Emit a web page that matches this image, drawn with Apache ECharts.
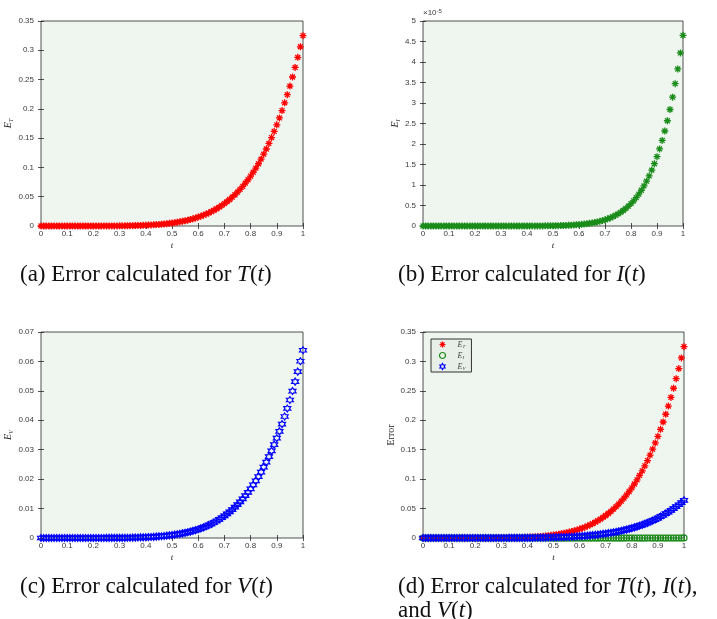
<!DOCTYPE html>
<html>
<head>
<meta charset="utf-8">
<script src="https://cdn.jsdelivr.net/npm/echarts@6/dist/echarts.min.js"></script>
<style>
  html, body { margin: 0; padding: 0; background: #fff; }
  #chart { width: 717px; height: 619px; }
</style>
</head>
<body>
<div id="chart"></div>
<script>
// time grid t = 0 .. 1
const tValues = [
  0, 0.01, 0.02, 0.03, 0.04, 0.05, 0.06, 0.07, 0.08, 0.09,
  0.1, 0.11, 0.12, 0.13, 0.14, 0.15, 0.16, 0.17, 0.18, 0.19,
  0.2, 0.21, 0.22, 0.23, 0.24, 0.25, 0.26, 0.27, 0.28, 0.29,
  0.3, 0.31, 0.32, 0.33, 0.34, 0.35, 0.36, 0.37, 0.38, 0.39,
  0.4, 0.41, 0.42, 0.43, 0.44, 0.45, 0.46, 0.47, 0.48, 0.49,
  0.5, 0.51, 0.52, 0.53, 0.54, 0.55, 0.56, 0.57, 0.58, 0.59,
  0.6, 0.61, 0.62, 0.63, 0.64, 0.65, 0.66, 0.67, 0.68, 0.69,
  0.7, 0.71, 0.72, 0.73, 0.74, 0.75, 0.76, 0.77, 0.78, 0.79,
  0.8, 0.81, 0.82, 0.83, 0.84, 0.85, 0.86, 0.87, 0.88, 0.89,
  0.9, 0.91, 0.92, 0.93, 0.94, 0.95, 0.96, 0.97, 0.98, 0.99, 1
];

// E_T
const errT = [
  0, 0, 0, 0, 0, 0, 0, 0, 0, 0,
  0, 0, 0, 0, 0, 0, 0, 0, 0, 0,
  0.00002, 0.00003, 0.00004, 0.00005, 0.00006, 0.00008, 0.0001, 0.00013, 0.00016, 0.00019,
  0.00024, 0.00029, 0.00035, 0.00042, 0.0005, 0.0006, 0.00071, 0.00083, 0.00098, 0.00114,
  0.00133, 0.00154, 0.00178, 0.00205, 0.00236, 0.0027, 0.00308, 0.0035, 0.00398, 0.0045,
  0.00508, 0.00572, 0.00643, 0.0072, 0.00806, 0.009, 0.01002, 0.01115, 0.01237, 0.01371,
  0.01516, 0.01674, 0.01846, 0.02032, 0.02233, 0.02451, 0.02686, 0.0294, 0.03213, 0.03507,
  0.03824, 0.04163, 0.04528, 0.04918, 0.05337, 0.05784, 0.06263, 0.06774, 0.07319, 0.079,
  0.0852, 0.09179, 0.0988, 0.10626, 0.11417, 0.12257, 0.13148, 0.14093, 0.15093, 0.16152,
  0.17272, 0.18456, 0.19707, 0.21027, 0.22421, 0.23891, 0.2544, 0.27072, 0.2879, 0.30598, 0.325
];

// E_I in units of 1e-5
const errI = [
  0, 0, 0, 0, 0, 0, 0, 0, 0, 0,
  0, 0, 0, 0, 0, 0, 0, 0, 0, 0,
  0, 0, 0, 0, 0, 0, 0, 0, 0, 0,
  0.00004, 0.00006, 0.00008, 0.00011, 0.00015, 0.0002, 0.00026, 0.00033, 0.00043, 0.00055,
  0.0007, 0.0009, 0.0011, 0.0014, 0.0018, 0.0022, 0.0027, 0.0033, 0.0041, 0.0049,
  0.006, 0.0072, 0.0087, 0.0105, 0.0125, 0.015, 0.0178, 0.0211, 0.0249, 0.0294,
  0.0345, 0.0404, 0.0473, 0.0551, 0.0641, 0.0744, 0.0861, 0.0995, 0.1147, 0.132,
  0.1515, 0.174, 0.198, 0.227, 0.258, 0.294, 0.334, 0.378, 0.428, 0.484,
  0.546, 0.615, 0.692, 0.777, 0.872, 0.977, 1.093, 1.221, 1.363, 1.519,
  1.691, 1.88, 2.088, 2.317, 2.567, 2.842, 3.143, 3.471, 3.83, 4.222, 4.65
];
const errIUnit = 1e-5;

// E_V
const errV = [
  0, 0, 0, 0, 0, 0, 0, 0, 0, 0,
  0, 0, 0, 0, 0, 0, 0, 0, 0, 0,
  0.000004, 0.000005, 0.000007, 0.00001, 0.000012, 0.000016, 0.00002, 0.000025, 0.000031, 0.000038,
  0.000047, 0.000057, 0.000069, 0.000082, 0.000099, 0.000117, 0.000139, 0.000164, 0.000192, 0.000225,
  0.000261, 0.000303, 0.00035, 0.000403, 0.000463, 0.00053, 0.000604, 0.000688, 0.00078, 0.000883,
  0.000997, 0.001123, 0.001261, 0.001414, 0.001582, 0.001766, 0.001968, 0.002188, 0.002429, 0.002691,
  0.002977, 0.003287, 0.003624, 0.003989, 0.004384, 0.004812, 0.005273, 0.005771, 0.006308, 0.006885,
  0.007506, 0.008173, 0.008888, 0.009655, 0.010476, 0.011355, 0.012294, 0.013297, 0.014368, 0.015509,
  0.016725, 0.018019, 0.019396, 0.020859, 0.022413, 0.024062, 0.025811, 0.027665, 0.029629, 0.031707,
  0.033906, 0.03623, 0.038686, 0.041278, 0.044014, 0.046899, 0.04994, 0.053144, 0.056517, 0.060066, 0.0638
];

const captions = [
  '(a) Error calculated for {i|T}({i|t})',
  '(b) Error calculated for {i|I}({i|t})',
  '(c) Error calculated for {i|V}({i|t})',
  '(d) Error calculated for {i|T}({i|t}), {i|I}({i|t}),\nand {i|V}({i|t})'
];

const chart = echarts.init(document.getElementById('chart'));

const axisColor = '#262626';
const labelColor = '#3a3a3a';
const plotBg = '#eff5ef';
const sans = 'Liberation Sans, Arial, sans-serif';
const serif = 'Liberation Serif, Times New Roman, serif';

// MATLAB-ish markers
const starPath = 'path://M0,5L10,5M5,0L5,10M1.5,1.5L8.5,8.5M1.5,8.5L8.5,1.5';
const hexPath = 'path://M50,0L64.43,25L93.3,25L78.87,50L93.3,75L64.43,75L50,100L35.57,75L6.7,75L21.13,50L6.7,25L35.57,25Z';

const red = '#ff0000', green = '#1a8c1a', blue = '#0000ff';

const grids = [
  { left: 41, top: 21, width: 262, height: 205 },
  { left: 423, top: 21, width: 260, height: 205 },
  { left: 41, top: 332, width: 262, height: 206 },
  { left: 423, top: 332, width: 261, height: 206 }
];

const nameRich = {
  e: { fontFamily: serif, fontStyle: 'italic', fontSize: 10, color: axisColor, lineHeight: 12 },
  s: { fontFamily: serif, fontStyle: 'italic', fontSize: 6, color: axisColor, lineHeight: 12, verticalAlign: 'bottom', padding: [4, 0, 0, 0] },
  r: { fontFamily: serif, fontSize: 10, color: axisColor }
};

function xAxes(gi) {
  return [
    {
      gridIndex: gi, type: 'value', min: 0, max: 1, interval: 0.1, position: 'bottom',
      axisLine: { show: false },
      axisTick: { inside: true, length: 3, lineStyle: { color: axisColor, width: 0.8 } },
      axisLabel: { fontSize: 8, color: labelColor, margin: 4, fontFamily: sans },
      splitLine: { show: false },
      name: 't', nameLocation: 'middle', nameGap: 15,
      nameTextStyle: { fontFamily: serif, fontStyle: 'italic', fontSize: 9, color: axisColor }
    },
    {
      gridIndex: gi, type: 'value', min: 0, max: 1, interval: 0.1, position: 'top',
      axisLine: { show: false },
      axisTick: { inside: true, length: 3, lineStyle: { color: axisColor, width: 0.8 } },
      axisLabel: { show: false },
      splitLine: { show: false }
    }
  ];
}

function yAxes(gi, max, interval, name, gap) {
  return [
    {
      gridIndex: gi, type: 'value', min: 0, max: max, interval: interval, position: 'left',
      axisLine: { show: false },
      axisTick: { inside: true, length: 3, lineStyle: { color: axisColor, width: 0.8 } },
      axisLabel: { fontSize: 8, color: labelColor, margin: 7, fontFamily: sans },
      splitLine: { show: false },
      name: name, nameLocation: 'middle', nameRotate: 90, nameGap: gap,
      nameTextStyle: { rich: nameRich }
    },
    {
      gridIndex: gi, type: 'value', min: 0, max: max, interval: interval, position: 'right',
      axisLine: { show: false },
      axisTick: { inside: true, length: 3, lineStyle: { color: axisColor, width: 0.8 } },
      axisLabel: { show: false },
      splitLine: { show: false }
    }
  ];
}

function pairs(vals, scale) {
  return tValues.map((t, i) => [t, vals[i] * (scale || 1)]);
}

function scatter(name, gi, data, symbol, size, color, bw) {
  return {
    name: name, type: 'scatter', xAxisIndex: gi * 2, yAxisIndex: gi * 2,
    data: data, symbol: symbol, symbolSize: size,
    itemStyle: { color: 'none', borderColor: color, borderWidth: bw, opacity: 1 },
    emphasis: { disabled: true },
    silent: true, animation: false
  };
}

function legendItem(name, icon, color) {
  return { name: name, icon: icon, itemStyle: { color: 'none', borderColor: color, borderWidth: 1.2 } };
}

const option = {
  backgroundColor: '#ffffff',
  animation: false,
  title: captions.map((txt, k) => ({
    text: txt,
    left: k === 0 || k === 2 ? 20 : 398,
    top: k < 2 ? 263 : 575,
    textStyle: {
      fontFamily: serif, fontSize: 23, fontWeight: 'normal', color: '#111', lineHeight: 24,
      rich: { i: { fontFamily: serif, fontStyle: 'italic', fontSize: 23, color: '#111', lineHeight: 24 } }
    },
    padding: 0
  })),
  grid: grids.map(g => Object.assign({
    show: true, backgroundColor: plotBg, borderColor: axisColor, borderWidth: 0.8
  }, g)),
  xAxis: [].concat(xAxes(0), xAxes(1), xAxes(2), xAxes(3)),
  yAxis: [].concat(
    yAxes(0, 0.35, 0.05, '{e|E}{s|T}', 19),
    yAxes(1, 5, 0.5, '{e|E}{s|I}', 19),
    yAxes(2, 0.07, 0.01, '{e|E}{s|V}', 19),
    yAxes(3, 0.35, 0.05, '{r|Error}', 22)
  ),
  legend: {
    data: [
      legendItem('E_T', starPath, red),
      legendItem('E_I', 'circle', green),
      legendItem('E_V', hexPath, blue)
    ],
    orient: 'vertical',
    left: 431, top: 339,
    padding: [0, 6, 0, 6],
    itemGap: 0,
    itemWidth: 20, itemHeight: 6,
    backgroundColor: '#e8eee8',
    borderColor: '#333333', borderWidth: 1,
    selectedMode: false,
    formatter: n => '{e|E}{s|' + n.slice(2) + '}',
    textStyle: {
      rich: {
        e: { fontFamily: serif, fontStyle: 'italic', fontSize: 8, color: '#444', lineHeight: 10 },
        s: { fontFamily: serif, fontStyle: 'italic', fontSize: 5, color: '#444', lineHeight: 10, verticalAlign: 'bottom', padding: [3, 0, 0, 0] }
      }
    }
  },
  graphic: [
    {
      type: 'text', left: 423, top: 8,
      style: {
        text: '×10{sup|-5}', fill: labelColor, font: '8px ' + sans,
        rich: { sup: { fontSize: 6, fill: labelColor, verticalAlign: 'top', padding: [0, 0, 4, 0] } }
      }
    }
  ],
  series: [
    scatter('panelA', 0, pairs(errT), starPath, 7, red, 1.3),
    scatter('panelB', 1, pairs(errI), starPath, 7, green, 1.3),
    scatter('panelC', 2, pairs(errV), hexPath, 7, blue, 1.2),
    scatter('E_T', 3, pairs(errT), starPath, 7, red, 1.3),
    scatter('E_I', 3, pairs(errI, errIUnit), 'circle', 6, green, 1.2),
    scatter('E_V', 3, pairs(errV), hexPath, 7, blue, 1.2)
  ]
};

chart.setOption(option);
</script>
</body>
</html>
